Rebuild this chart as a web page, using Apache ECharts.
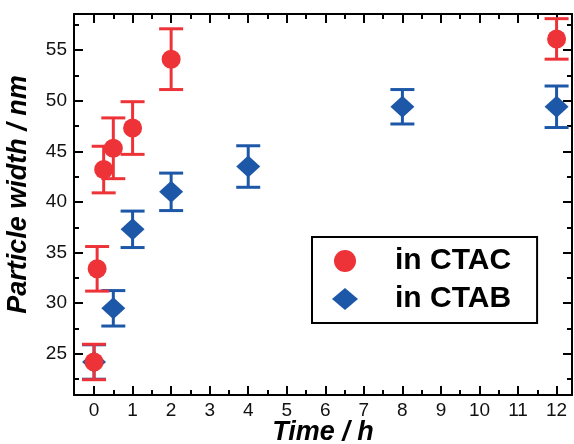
<!DOCTYPE html>
<html>
<head>
<meta charset="utf-8">
<script src="https://cdn.jsdelivr.net/npm/echarts@6/dist/echarts.min.js"></script>
<style>
  html, body { margin: 0; padding: 0; background: #fff; }
  #chart { width: 574px; height: 444px; }
</style>
</head>
<body>
<div id="chart"></div>
<script>
// values
var timeCTAC = [0, 0.08, 0.25, 0.5, 1, 2, 12];
var widthCTAC = [24.2, 33.4, 43.2, 45.3, 47.3, 54.1, 56.1];
var errCTAC = [1.75, 2.2, 2.3, 3.0, 2.6, 3.0, 2.0];

var timeCTAB = [0, 0.5, 1, 2, 4, 8, 12];
var widthCTAB = [24.2, 29.5, 37.3, 41.0, 43.5, 49.4, 49.4];
var errCTAB = [1.7, 1.75, 1.8, 1.85, 2.05, 1.7, 2.05];

var xMajor = [0, 1, 2, 3, 4, 5, 6, 7, 8, 9, 10, 11, 12];
var xMinor = [0.5, 1.5, 2.5, 3.5, 4.5, 5.5, 6.5, 7.5, 8.5, 9.5, 10.5, 11.5];
var yMajor = [25, 30, 35, 40, 45, 50, 55];
var yMinor = [22.5, 27.5, 32.5, 37.5, 42.5, 47.5, 52.5, 57.5];

var red = '#EE3338';
var blue = '#1D57A7';
var font = '"Liberation Sans", Arial, sans-serif';

function points(xs, ys) {
    return xs.map(function (x, i) { return [x, ys[i]]; });
}
function bars(xs, ys, es) {
    return xs.map(function (x, i) { return [x, ys[i] - es[i], ys[i] + es[i]]; });
}

function errorBar(color) {
    return function (params, api) {
        var x = api.value(0);
        var lo = api.coord([x, api.value(1)]);
        var hi = api.coord([x, api.value(2)]);
        var hw = 12;
        var style = {stroke: color, lineWidth: 3, fill: null};
        return {
            type: 'group',
            children: [
                {type: 'line', shape: {x1: lo[0], y1: lo[1], x2: hi[0], y2: hi[1]}, style: style},
                {type: 'line', shape: {x1: hi[0] - hw, y1: hi[1], x2: hi[0] + hw, y2: hi[1]}, style: style},
                {type: 'line', shape: {x1: lo[0] - hw, y1: lo[1], x2: lo[0] + hw, y2: lo[1]}, style: style}
            ]
        };
    };
}

function xAxisDef(pos, ticks, len, showLine, withLabel) {
    return {
        type: 'value', position: pos, min: -0.52, max: 12.4,
        axisLine: {show: showLine, onZero: false, lineStyle: {color: '#000', width: 2}},
        axisTick: {show: true, inside: true, length: len, customValues: ticks, lineStyle: {color: '#000', width: 2}},
        axisLabel: withLabel ? {show: true, customValues: xMajor, margin: 6, color: '#111', fontSize: 19, fontFamily: font} : {show: false},
        splitLine: {show: false}
    };
}
function yAxisDef(pos, ticks, len, showLine, withLabel) {
    return {
        type: 'value', position: pos, min: 20.94, max: 58.56,
        axisLine: {show: showLine, onZero: false, lineStyle: {color: '#000', width: 2}},
        axisTick: {show: true, inside: true, length: len, customValues: ticks, lineStyle: {color: '#000', width: 2}},
        axisLabel: withLabel ? {show: true, customValues: yMajor, margin: 7, color: '#111', fontSize: 19, fontFamily: font} : {show: false},
        splitLine: {show: false}
    };
}

var xAxes = [
    xAxisDef('bottom', xMajor, 9, true, true),
    xAxisDef('bottom', xMinor, 5, false, false),
    xAxisDef('top', xMajor, 9, true, false),
    xAxisDef('top', xMinor, 5, false, false)
];
xAxes[0].name = 'Time / h';
xAxes[0].nameLocation = 'middle';
xAxes[0].nameGap = 24;
xAxes[0].nameMoveOverlap = false;
xAxes[0].nameTextStyle = {fontSize: 27, fontWeight: 'bold', fontStyle: 'italic', color: '#000', fontFamily: font};

var yAxes = [
    yAxisDef('left', yMajor, 9, true, true),
    yAxisDef('left', yMinor, 5, false, false),
    yAxisDef('right', yMajor, 9, true, false),
    yAxisDef('right', yMinor, 5, false, false)
];
yAxes[0].name = 'Particle width / nm';
yAxes[0].nameLocation = 'middle';
yAxes[0].nameGap = 42;
yAxes[0].nameMoveOverlap = false;
yAxes[0].nameTextStyle = {fontSize: 27, fontWeight: 'bold', fontStyle: 'italic', color: '#000', fontFamily: font, padding: [0, 0, 0, 20]};

var option = {
    backgroundColor: '#fff',
    animation: false,
    grid: {left: 74, top: 14, right: 2, bottom: 49, containLabel: false, outerBoundsMode: 'none'},
    xAxis: xAxes,
    yAxis: yAxes,
    legend: {
        orient: 'vertical',
        left: 312, top: 237,
        padding: [9, 26, 9, 20],
        itemGap: 8,
        itemWidth: 26, itemHeight: 22,
        borderColor: '#000', borderWidth: 2,
        backgroundColor: '#fff',
        textStyle: {fontSize: 30, fontWeight: 'bold', color: '#000', fontFamily: font, padding: [0, 0, 0, 32]},
        data: [
            {name: 'in CTAC', icon: 'circle'},
            {name: 'in CTAB', icon: 'diamond'}
        ]
    },
    series: [
        {
            name: 'CTAB err', type: 'custom', renderItem: errorBar(blue),
            data: bars(timeCTAB, widthCTAB, errCTAB), z: 2
        },
        {
            name: 'in CTAB', type: 'scatter', symbol: 'diamond', symbolSize: [24, 22],
            itemStyle: {color: blue, opacity: 1}, data: points(timeCTAB, widthCTAB), z: 3
        },
        {
            name: 'CTAC err', type: 'custom', renderItem: errorBar(red),
            data: bars(timeCTAC, widthCTAC, errCTAC), z: 4
        },
        {
            name: 'in CTAC', type: 'scatter', symbol: 'circle', symbolSize: 19,
            itemStyle: {color: red, opacity: 1}, data: points(timeCTAC, widthCTAC), z: 5
        }
    ]
};

var chart = echarts.init(document.getElementById('chart'));
chart.setOption(option);
</script>
</body>
</html>
